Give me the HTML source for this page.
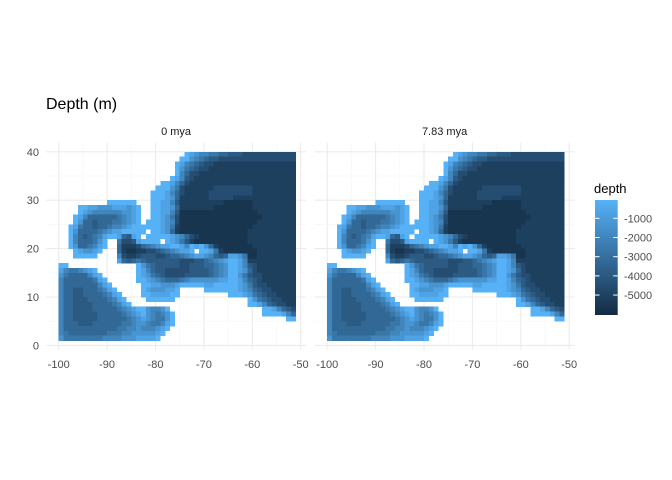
<!DOCTYPE html>
<html><head><meta charset="utf-8"><style>
body{margin:0;background:#fff;}
svg{display:block;font-family:"Liberation Sans",Arial,sans-serif;}
</style></head><body>
<svg id="chart" width="672" height="480" viewBox="0 0 672 480" xmlns="http://www.w3.org/2000/svg">
<rect width="672" height="480" fill="#fff"/>
<text x="46" y="109" font-size="16" fill="#000">Depth (m)</text>
<g id="panels"></g>
<g id="legend"></g>
</svg>
<script>
const xTicks = [-100, -90, -80, -70, -60, -50];
const yTicks = [0, 10, 20, 30, 40];
const panelLabels = ["0 mya", "7.83 mya"];
const legendTicks = [-1000, -2000, -3000, -4000, -5000];
const depthMin = -6040, depthMax = -45;
const lonStart = -100, latTop = 40;
// depth level per 1-degree cell (row = latitude band from 40N down; '.' = land)
const depthRows = [
".*26,0,1,2,3,3,4,4,5,5,6,6,6,7*11",
".*25,0,0,2,3,4,5,6,6,7*16",
".*24,0,1,3,4,5,6,7,7,8*17",
".*24,0,2,4,5,6,7,7,8*18",
".*24,0,3,5,7,7,8*20",
".*23,0,1,3,6,7,8*21",
".*21,0,0,1,3,5,7,8*22",
".*20,0,0,0,2,4,7,8*6,7*4,7*4,8*9",
".*19,0,0,0,1,3,5,7,8*5,7*5,7*4,8*9",
".*19,0,0,0,1,2,5,8*6,7*5,8*13",
".*10,0*6,.*3,0,0,1,1,3,6,8*9,9*6,8*9",
".*4,0,0,1,1,2,2,2,1,1,1,2,1,0,.*2,0,0,1,1,2,5,8*7,9*8,8*9",
".*4,0,1,2,3,3,3,3,3,3,2,2,1,0,.*2,0,0,1,1,3,6,9*16,8*8",
".*3,0,1,3,5,5,5,5,5,5,4,3,2,1,0,.*2,0,0,1,2,4,7,9*17,8*7",
".*3,0,2,5,5,6,5,5,5,4,4,3,2,1,0,.,0,0,0,1,2,3,7,9*16,8*8",
".*2,0,1,4,5,5,6,5,5,4,3,3,2,1,0,0,0,0,0,0,1,2,4,8,9*15,8*9",
".*2,0,2,5,5,5,5,4,3,2,1,1,0,0,0,0,0,.,0,0,1,2,5,8,9*14,8*10",
".*2,0,3,5,6,5,4,3,1,0,0,1,5,6,1,0,.,0,0,0,0,0,1,2,3,5,7,8,9*10,8*10",
".*2,0,3,5,5,5,4,2,0,.,.,4,7,7,6,1,0,0,0,0,.,0,1,2,4,6,8,9*11,8*10",
".*2,0,2,5,5,4,3,1,0,.,.,5,8,8,8,7,5,4,3,2,1,1,0,0,1,3,0,1,0,2,5,8,9*7,8*9",
".*3,0,1,2,2,1,0,.*3,5,8,9,9,8,8,7,7,6,5,4,3,2,1,1,0,.,0,0,1,4,8,9*7,8*8",
".*3,0,0,0,0,0,.*4,3,7,8,8,7,6,6,6,7,7,6,5,5,4,3,2,1,1,2,3,5,6,5,1,1,2,4,9*2,8*8",
".*12,1,5,6,5,4,5,6,6,6,6,6,6,6,7,7,7,6,6,5,4,3,2,1,0,0,1,3,8*10",
"0,0,.*14,0,2,4,5,6,6,6,6,6,7,7,6,6,6,5,5,4,3,2,0,0,1,3,6,7,8*8",
"1,3,4,4,3,2,1,0,.*8,0,1,3,5,6,6,7,7,7,7,7,6,6,6,6,5,4,3,2,0,0,1,2,5,7,8*8",
"2,4,5,5,5,5,3,1,0,.*7,0,1,2,4,5,6,7,7,7,7,6,6,6,6,6,5,4,3,2,0,0,2,4,6,7,7,8*7",
"3,5,5,5,5,5,5,4,1,0,.*6,0,0,1,2,3,4,5,5,5,4,3,2,2,2,2,2,2,1,1,0,0,1,3,5,6,7,8*7",
"3,5,5,5,5,5,5,5,3,1,0,.*6,0,0,1,1,2,2,2,1,0,0,0,0,0,1,1,0,0,0,0,0,1,2,4,6,7,7,8*6",
"3,5,5,6,6,5,5,5,4,3,1,0,.*5,0,1,2,2,2,1,1,0,.*5,0,0,0,0,0,0,0,1,2,3,5,6,7,7,8*5",
"3,5,5,6,6,5,5,5,5,4,3,1,0,.*4,0,0,1,1,1,1,0,0,.*10,0,0,0,1,2,4,5,6,7,7,8*4",
"3,5,5,6,6,6,5,5,5,5,4,3,1,0,.*4,0*6,.*15,0,2,4,5,6,7,7,8,8,8",
"3,5,5,6,6,6,6,5,5,5,5,4,3,1,0,.*24,0,0,1,3,5,6,7,7,8,8",
"3,5,5,6,6,6,6,5,5,5,5,5,4,3,2,1,0,0,2,3,3,2,0,.*19,0,0,1,3,5,6,7",
"3,5,5,6,6,6,6,6,5,5,5,5,5,4,3,2,1,0,2,3,4,3,2,0,.*18,0,0,0,0,1,3,5",
"3,5,5,6,6,6,6,6,5,5,5,5,5,5,4,3,2,1,2,3,4,4,2,0,.*23,0,0",
"3,5,5,5,6,6,6,5,5,5,5,5,5,4,4,3,2,2,3,4,4,3,1,0",
"3,5,5,5,5,5,5,5,5,5,5,5,4,4,3,3,2,3,3,3,2,1,0",
"3,4,5,5,5,5,5,5,5,5,4,4,4,3,3,2,2,2,2,2,1,0",
"2,4,4,4,4,4,4,4,4,3,3,3,3,2,2,2,1,1,1,1,0"
];
const levelDepth = [-60, -700, -1350, -2000, -2650, -3300, -3900, -4500, -5100, -5600];

const NS = "http://www.w3.org/2000/svg";
function mk(tag, attrs, parent){const e=document.createElementNS(NS,tag);for(const k in attrs)e.setAttribute(k,attrs[k]);parent.appendChild(e);return e;}
function parseRow(s){const out=[];s.split(",").forEach(t=>{const p=t.split("*");const n=p.length>1?+p[1]:1;for(let i=0;i<n;i++)out.push(p[0]);});while(out.length<49)out.push(".");return out.slice(0,49);}
const grid = depthRows.map(parseRow);
const lo=[0x13,0x2B,0x43], hi=[0x56,0xB1,0xF7];
function color(d){let t=(d-depthMin)/(depthMax-depthMin);t=Math.max(0,Math.min(1,t));const c=lo.map((v,i)=>Math.round(v+(hi[i]-v)*t));return `rgb(${c[0]},${c[1]},${c[2]})`;}
const panelOffsets=[0,268.5];
const pxPerDeg=4.84;
function xScale(lon,off){return 58.7+off+(lon+100)*pxPerDeg;}
function yScale(lat){return 345.4-lat*pxPerDeg;}
const panels=document.getElementById("panels");
panelOffsets.forEach((off,pi)=>{
  const g=mk("g",{},panels);
  
  
  const x0=xScale(-102.6,off), x1=xScale(-48.9,off), y0=yScale(41.9), y1=yScale(-0.9);
  for(let lon=-100;lon<=-50;lon+=5){const major=lon%10===0;const l=mk("line",{x1:xScale(lon,off),x2:xScale(lon,off),y1:y0,y2:y1,stroke:major?"#EBEBEB":"#F5F5F5","stroke-width":major?1.1:0.6},g);}
  for(let lat=0;lat<=40;lat+=5){const major=lat%10===0;const l=mk("line",{x1:x0,x2:x1,y1:yScale(lat),y2:yScale(lat),stroke:major?"#EBEBEB":"#F5F5F5","stroke-width":major?1.1:0.6},g);}
  grid.forEach((row,r)=>row.forEach((ch,c)=>{
    if(ch===".")return;
    const lon=lonStart+c, lat=latTop-r;
    const rc=mk("rect",{x:xScale(lon,off),y:yScale(lat),width:pxPerDeg+0.2,height:pxPerDeg+0.3,fill:color(levelDepth[+ch]),"shape-rendering":"crispEdges"},g);
    
    
  }));
  const st=mk("text",{x:(x0+x1)/2,y:135,"font-size":11,fill:"#1a1a1a","text-anchor":"middle"},g);
  st.textContent=panelLabels[pi];
  
  
  xTicks.forEach(v=>{const t=mk("text",{x:xScale(v,off),y:368,"font-size":11,fill:"#4d4d4d","text-anchor":"middle"},g);t.textContent=v;});
  if(pi===0)yTicks.forEach(v=>{const t=mk("text",{x:39,y:yScale(v)+4,"font-size":11,fill:"#4d4d4d","text-anchor":"end"},g);t.textContent=v;});
});
// legend
const lg=document.getElementById("legend");
const defs=mk("defs",{},lg);
const gr=mk("linearGradient",{id:"cb",x1:0,y1:0,x2:0,y2:1},defs);
mk("stop",{offset:"0",  "stop-color":color(depthMax)},gr);
mk("stop",{offset:"0.5","stop-color":color((depthMax+depthMin)/2)},gr);
mk("stop",{offset:"1",  "stop-color":color(depthMin)},gr);
const lt=mk("text",{x:594,y:193,"font-size":13,fill:"#000"},lg);lt.textContent="depth";


const barTop=200,barBot=315,bx=595,bw=22.7;
const bar=mk("rect",{x:bx,y:barTop,width:bw,height:barBot-barTop,fill:"url(#cb)"},lg);


function ly(d){return barTop+(depthMax-d)/(depthMax-depthMin)*(barBot-barTop);}
legendTicks.forEach(v=>{
  const y=ly(v);
  mk("line",{x1:bx,x2:bx+4.5,y1:y,y2:y,stroke:"#fff","stroke-width":1},lg);
  mk("line",{x1:bx+bw-4.5,x2:bx+bw,y1:y,y2:y,stroke:"#fff","stroke-width":1},lg);
  const t=mk("text",{x:624,y:y+4,"font-size":11,fill:"#4d4d4d"},lg);t.textContent=v;
  
  
});
</script>
</body></html>
